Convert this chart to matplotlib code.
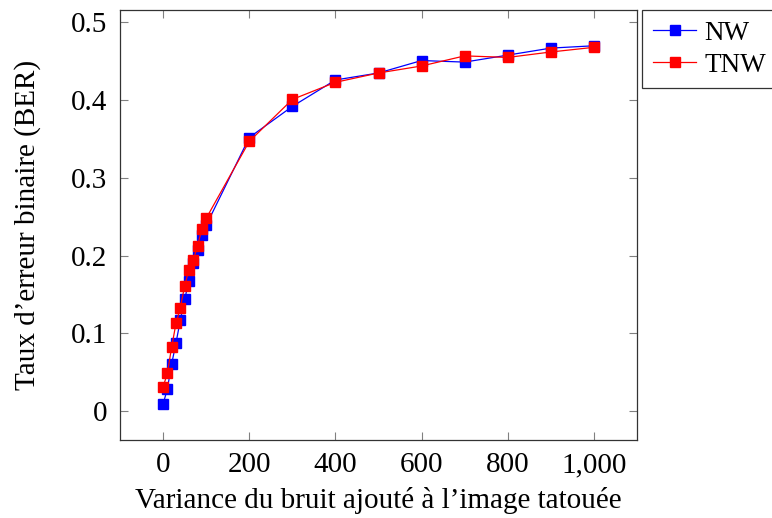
import matplotlib
matplotlib.use('Agg')
import matplotlib.pyplot as plt
from matplotlib.ticker import FuncFormatter

# variance du bruit
variance = [0, 10, 20, 30, 40, 50, 60, 70, 80, 90, 100,
            200, 300, 400, 500, 600, 700, 800, 900, 1000]
# BER
nw = [0.009, 0.029, 0.061, 0.088, 0.117, 0.144, 0.167, 0.190, 0.207, 0.227, 0.239,
      0.352, 0.392, 0.426, 0.435, 0.451, 0.449, 0.458, 0.467, 0.470]
tnw = [0.031, 0.049, 0.083, 0.113, 0.133, 0.161, 0.182, 0.194, 0.213, 0.234, 0.248,
       0.347, 0.401, 0.423, 0.435, 0.444, 0.457, 0.455, 0.462, 0.468]
xticks = [0, 200, 400, 600, 800, 1000]
yticks = [0, 0.1, 0.2, 0.3, 0.4, 0.5]

plt.rcParams['font.family'] = ['Liberation Serif', 'DejaVu Serif']
plt.rcParams['font.size'] = 21

fig = plt.figure(figsize=(7.72, 5.18), dpi=100)
ax = fig.add_axes([120/772, 78/518, 517/772, 430/518])

ax.plot(variance, nw, '-s', color='blue', lw=0.9, ms=6.5, mec='blue', label='NW')
ax.plot(variance, tnw, '-s', color='red', lw=0.9, ms=6.5, mec='red', label='TNW')

ax.set_xlim(-100, 1100)
ax.set_ylim(-0.037, 0.516)
ax.set_xticks(xticks)
ax.set_yticks(yticks)
ax.xaxis.set_major_formatter(FuncFormatter(lambda v, p: '{:,.0f}'.format(v)))
ax.yaxis.set_major_formatter(FuncFormatter(lambda v, p: '0' if v == 0 else '{:.1f}'.format(v)))
ax.tick_params(direction='in', top=True, right=True, length=6, color='gray', width=0.8,
               pad=9)
for s in ax.spines.values():
    s.set_color('#333333')
    s.set_linewidth(0.9)

ax.set_xlabel('Variance du bruit ajouté à l’image tatouée', labelpad=6)
ax.set_ylabel('Taux d’erreur binaire (BER)', labelpad=22)

leg = ax.legend(loc='upper left', bbox_to_anchor=(1.01, 1.0), fancybox=False,
                edgecolor='#333333', framealpha=1, borderaxespad=0,
                fontsize=19.5, handlelength=1.6, handletextpad=0.3,
                borderpad=0.4, labelspacing=0.25)
leg.get_frame().set_linewidth(0.9)

plt.savefig('out.png', dpi=100)
